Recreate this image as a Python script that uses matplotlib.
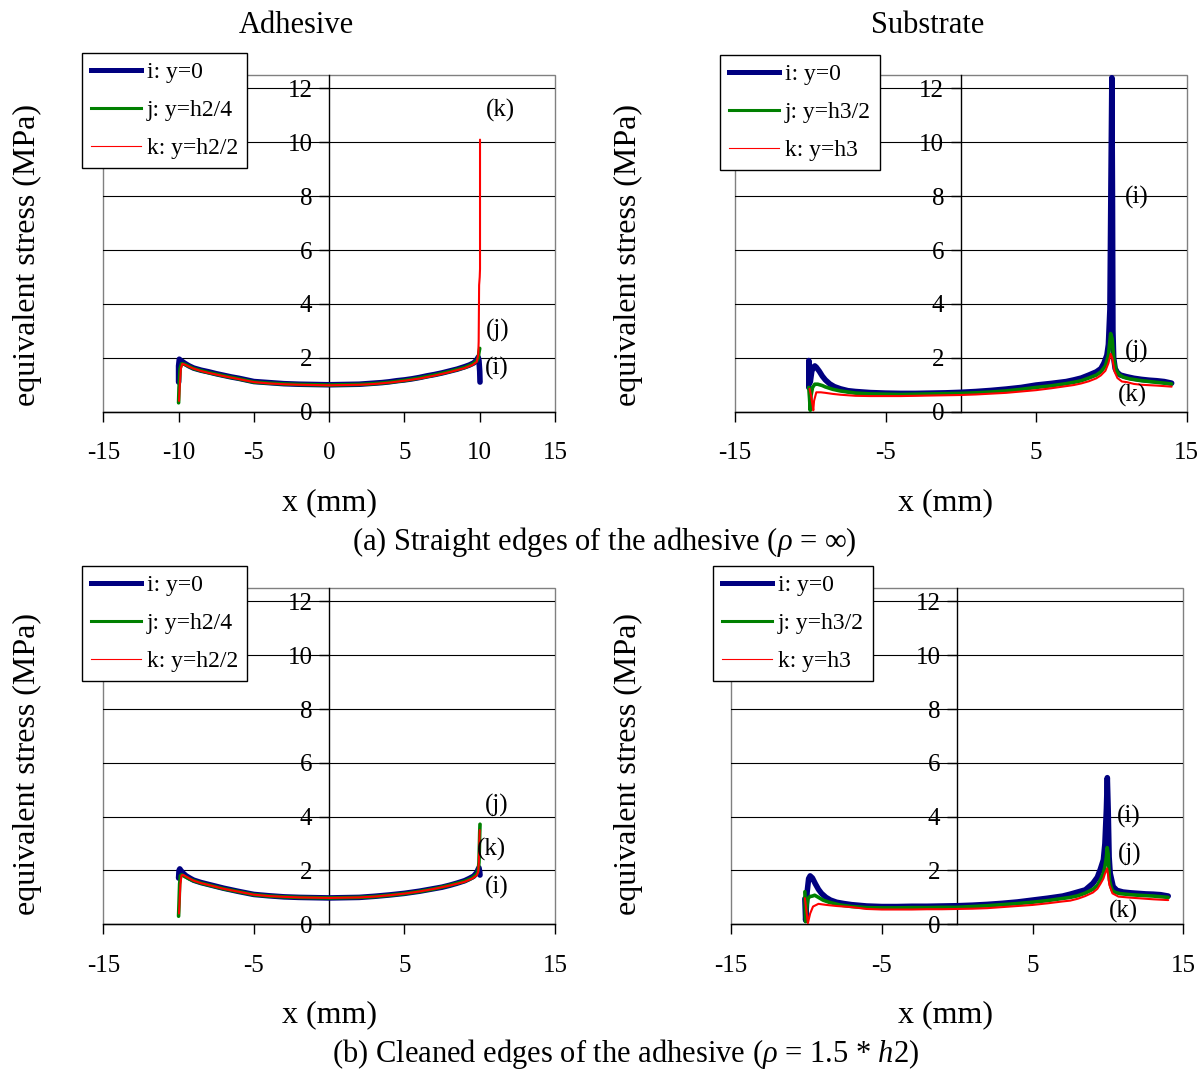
import matplotlib
matplotlib.use("Agg")
import matplotlib.pyplot as plt
from matplotlib.lines import Line2D
from matplotlib.patches import Rectangle

plt.rcParams["font.family"] = ["Liberation Serif", "DejaVu Serif"]
plt.rcParams["mathtext.fontset"] = "custom"
plt.rcParams["mathtext.rm"] = "Liberation Serif"
plt.rcParams["mathtext.it"] = "Liberation Serif:italic"
plt.rcParams["axes.unicode_minus"] = False

# ---------------- data: equivalent stress (MPa) along x (mm) ----------------
# (a) straight edges, adhesive
a_adh_i_x = [-10.0, -10.0, -9.95, -9.9, -9.8, -9.6, -9.3, -9.0, -8.5, -8.0, -7.5, -7.0, -6.5, -6.0,
             -5.5, -5.0, -4.5, -4.0, -3.5, -3.0, -2.5, -2.0, -1.0, 0.0, 1.0, 2.0, 2.5, 3.0, 3.5,
             4.0, 4.5, 5.0, 5.5, 6.0, 6.5, 7.0, 7.5, 8.0, 8.5, 9.0, 9.3, 9.6, 9.8, 9.9, 9.95,
             10.0, 10.02]
a_adh_i_y = [1.1, 1.7, 1.95, 1.92, 1.88, 1.8, 1.7, 1.62, 1.54, 1.48, 1.41, 1.35, 1.29, 1.24,
             1.18, 1.12, 1.1, 1.08, 1.06, 1.04, 1.03, 1.02, 1.01, 1.0, 1.01, 1.02, 1.04, 1.06,
             1.08, 1.11, 1.15, 1.18, 1.22, 1.27, 1.33, 1.38, 1.44, 1.51, 1.58, 1.67, 1.73, 1.81,
             1.92, 2.02, 1.9, 1.5, 1.1]
a_adh_j_x = [-10.0, -9.97, -9.9, -9.8, -9.6, -9.3, -9.0, -8.5, -8.0, -7.0, -6.0, -5.0, -4.0,
             -3.0, -2.0, -1.0, 0.0, 1.0, 2.0, 3.0, 4.0, 5.0, 6.0, 7.0, 8.0, 9.0, 9.5, 9.8, 9.9,
             9.95, 10.0]
a_adh_j_y = [0.33, 0.9, 1.6, 1.78, 1.76, 1.68, 1.6, 1.52, 1.45, 1.33, 1.22, 1.1, 1.06, 1.03,
             1.01, 1.0, 0.99, 1.0, 1.01, 1.04, 1.09, 1.16, 1.25, 1.36, 1.49, 1.64, 1.76, 1.88,
             2.0, 2.2, 2.35]
a_adh_k_x = [-9.97, -9.92, -9.85, -9.75, -9.6, -9.3, -9.0, -8.5, -8.0, -7.0, -6.0, -5.0, -4.0,
             -3.0, -2.0, -1.0, 0.0, 1.0, 2.0, 3.0, 4.0, 5.0, 6.0, 7.0, 8.0, 9.0, 9.5, 9.8, 9.9,
             9.93, 9.96, 10.0, 10.02, 10.02]
a_adh_k_y = [0.4, 1.0, 1.6, 1.78, 1.75, 1.67, 1.6, 1.51, 1.44, 1.32, 1.21, 1.1, 1.05, 1.02,
             1.0, 0.99, 0.98, 0.99, 1.0, 1.03, 1.08, 1.15, 1.23, 1.34, 1.47, 1.62, 1.73, 1.85,
             2.1, 2.6, 4.7, 5.0, 5.3, 10.1]

# (a) straight edges, substrate
a_sub_i_x = [-10.1, -10.1, -10.05, -10.0, -9.9, -9.8, -9.7, -9.6, -9.4, -9.2, -9.0, -8.7, -8.4,
             -8.0, -7.5, -7.0, -6.0, -5.0, -4.0, -3.0, -2.0, -1.0, 0.0, 1.0, 2.0, 3.0, 4.0, 5.0,
             6.0, 7.0, 7.5, 8.0, 8.5, 9.0, 9.3, 9.5, 9.7, 9.8, 9.9, 9.97, 10.03, 10.07, 10.1,
             10.15, 10.25, 10.4, 10.6, 11.0, 11.5, 12.0, 12.5, 13.0, 13.5, 14.0]
a_sub_i_y = [0.9, 1.9, 1.6, 1.1, 1.5, 1.65, 1.7, 1.65, 1.5, 1.32, 1.18, 1.03, 0.93, 0.85, 0.78,
             0.75, 0.71, 0.69, 0.68, 0.68, 0.69, 0.7, 0.72, 0.75, 0.79, 0.84, 0.9, 0.99, 1.05,
             1.12, 1.18, 1.25, 1.36, 1.48, 1.6, 1.8, 2.1, 2.5, 3.8, 8.6, 12.4, 8.0, 3.0, 2.0,
             1.6, 1.45, 1.36, 1.3, 1.24, 1.2, 1.17, 1.15, 1.12, 1.06]
a_sub_j_x = [-10.1, -10.05, -10.0, -9.95, -9.85, -9.7, -9.5, -9.2, -9.0, -8.5, -8.0, -7.0, -6.0,
             -5.0, -4.0, -3.0, -2.0, -1.0, 0.0, 1.0, 2.0, 3.0, 4.0, 5.0, 6.0, 7.0, 7.5, 8.0,
             8.5, 9.0, 9.3, 9.6, 9.8, 9.95, 10.05, 10.15, 10.3, 10.5, 10.8, 11.2, 12.0, 13.0,
             14.0]
a_sub_j_y = [0.9, 0.5, 0.05, 0.6, 0.9, 1.02, 1.02, 0.97, 0.92, 0.83, 0.77, 0.69, 0.66, 0.65,
             0.64, 0.65, 0.66, 0.67, 0.68, 0.7, 0.73, 0.77, 0.83, 0.9, 0.96, 1.04, 1.09, 1.15,
             1.25, 1.36, 1.48, 1.7, 2.1, 2.9, 2.7, 2.0, 1.55, 1.38, 1.28, 1.22, 1.15, 1.09,
             1.03]
a_sub_k_x = [-10.05, -9.95, -9.85, -9.8, -9.75, -9.6, -9.3, -9.0, -8.5, -8.0, -7.0, -6.0, -5.0,
             -4.0, -3.0, -2.0, -1.0, 0.0, 1.0, 2.0, 3.0, 4.0, 5.0, 6.0, 7.0, 7.5, 8.0, 8.5,
             9.0, 9.3, 9.6, 9.8, 9.95, 10.05, 10.2, 10.4, 10.7, 11.0, 11.5, 12.0, 13.0, 14.0]
a_sub_k_y = [0.85, 0.6, 0.25, 0.05, 0.4, 0.72, 0.72, 0.7, 0.66, 0.63, 0.59, 0.58, 0.58, 0.58,
             0.59, 0.6, 0.61, 0.62, 0.64, 0.67, 0.7, 0.75, 0.8, 0.87, 0.95, 0.99, 1.05, 1.13,
             1.24, 1.35, 1.52, 1.8, 2.15, 2.0, 1.5, 1.25, 1.12, 1.1, 1.03, 1.0, 0.97, 0.93]

# (b) cleaned edges, adhesive
b_adh_i_x = [-10.0, -9.97, -9.92, -9.85, -9.7, -9.5, -9.2, -9.0, -8.5, -8.0, -7.5, -7.0, -6.0,
             -5.0, -4.0, -3.0, -2.0, -1.0, 0.0, 1.0, 2.0, 3.0, 4.0, 5.0, 6.0, 7.0, 7.5, 8.0,
             8.5, 9.0, 9.3, 9.6, 9.8, 9.9, 9.95, 10.0, 10.02]
b_adh_i_y = [1.72, 2.0, 2.06, 2.0, 1.9, 1.8, 1.7, 1.64, 1.55, 1.48, 1.41, 1.34, 1.22, 1.11,
             1.06, 1.02, 1.0, 0.99, 0.98, 0.99, 1.0, 1.04, 1.09, 1.15, 1.23, 1.33, 1.38, 1.45,
             1.53, 1.62, 1.7, 1.79, 1.92, 2.05, 2.1, 1.95, 1.83]
b_adh_j_x = [-10.0, -9.97, -9.93, -9.88, -9.8, -9.6, -9.3, -9.0, -8.5, -8.0, -7.0, -6.0, -5.0,
             -4.0, -3.0, -2.0, -1.0, 0.0, 1.0, 2.0, 3.0, 4.0, 5.0, 6.0, 7.0, 8.0, 9.0, 9.5,
             9.8, 9.9, 9.95, 9.98, 10.0, 10.02]
b_adh_j_y = [0.3, 0.8, 1.5, 1.8, 1.84, 1.78, 1.69, 1.62, 1.53, 1.46, 1.32, 1.21, 1.1, 1.05,
             1.02, 1.0, 0.99, 0.98, 0.99, 1.0, 1.03, 1.08, 1.14, 1.22, 1.32, 1.45, 1.6, 1.72,
             1.86, 2.0, 2.3, 2.9, 3.4, 3.72]
b_adh_k_x = [-9.97, -9.93, -9.88, -9.8, -9.7, -9.5, -9.2, -9.0, -8.5, -8.0, -7.0, -6.0, -5.0,
             -4.0, -3.0, -2.0, -1.0, 0.0, 1.0, 2.0, 3.0, 4.0, 5.0, 6.0, 7.0, 8.0, 9.0, 9.5,
             9.8, 9.9, 9.94, 9.97, 10.0]
b_adh_k_y = [0.4, 0.9, 1.5, 1.82, 1.84, 1.77, 1.68, 1.62, 1.53, 1.46, 1.32, 1.21, 1.1, 1.05,
             1.02, 1.0, 0.99, 0.98, 0.99, 1.0, 1.03, 1.08, 1.14, 1.22, 1.32, 1.44, 1.58, 1.7,
             1.82, 1.95, 2.3, 3.0, 3.5]

# (b) cleaned edges, substrate
b_sub_i_x = [-10.1, -10.05, -9.95, -9.85, -9.75, -9.6, -9.4, -9.2, -9.0, -8.7, -8.4, -8.0,
             -7.5, -7.0, -6.0, -5.0, -4.0, -3.0, -2.0, -1.0, 0.0, 1.0, 2.0, 3.0, 4.0, 5.0,
             6.0, 7.0, 7.5, 8.0, 8.5, 9.0, 9.3, 9.5, 9.7, 9.8, 9.9, 9.96, 10.02, 10.08, 10.15,
             10.35, 10.6, 11.0, 11.5, 12.0, 12.5, 13.0, 13.5, 14.0]
b_sub_i_y = [0.95, 0.15, 1.2, 1.7, 1.8, 1.72, 1.5, 1.3, 1.15, 1.0, 0.9, 0.82, 0.77, 0.73,
             0.68, 0.66, 0.66, 0.67, 0.67, 0.68, 0.69, 0.71, 0.74, 0.78, 0.83, 0.9, 0.97, 1.05,
             1.12, 1.2, 1.28, 1.52, 1.75, 2.05, 2.4, 3.0, 4.3, 5.45, 4.2, 2.5, 1.9, 1.4, 1.26,
             1.2, 1.17, 1.15, 1.13, 1.12, 1.1, 1.05]
b_sub_j_x = [-10.1, -10.05, -9.98, -9.9, -9.78, -9.6, -9.45, -9.2, -8.9, -8.5, -7.8, -7.0,
             -6.0, -5.0, -4.0, -3.0, -2.0, -1.0, 0.0, 1.0, 2.0, 3.0, 4.0, 5.0, 6.0, 7.0, 7.5,
             8.0, 8.5, 9.0, 9.3, 9.5, 9.7, 9.8, 9.9, 9.95, 10.02, 10.1, 10.2, 10.3, 10.5, 10.8,
             11.5, 12.0, 13.0, 14.0]
b_sub_j_y = [1.21, 0.1, 0.6, 0.95, 1.03, 1.05, 1.08, 1.0, 0.9, 0.82, 0.72, 0.66, 0.62, 0.61,
             0.61, 0.62, 0.62, 0.63, 0.63, 0.66, 0.69, 0.73, 0.77, 0.82, 0.88, 0.96, 1.0, 1.06,
             1.16, 1.3, 1.45, 1.65, 1.9, 2.14, 2.5, 2.85, 2.6, 1.65, 1.4, 1.25, 1.18, 1.14,
             1.1, 1.08, 1.05, 1.0]
b_sub_k_x = [-10.1, -10.0, -9.9, -9.75, -9.56, -9.2, -8.67, -8.0, -7.0, -6.0, -5.0, -4.0, -3.0,
             -2.0, -1.0, 0.0, 1.0, 2.0, 2.5, 3.0, 4.0, 5.0, 6.0, 7.0, 7.5, 8.0, 8.5, 9.0, 9.3,
             9.5, 9.7, 9.8, 9.95, 10.1, 10.3, 10.7, 11.5, 12.0, 13.0, 14.0]
b_sub_k_y = [0.97, 0.5, 0.04, 0.4, 0.66, 0.76, 0.72, 0.68, 0.64, 0.57, 0.55, 0.55, 0.55, 0.56,
             0.56, 0.57, 0.58, 0.6, 0.62, 0.64, 0.68, 0.72, 0.78, 0.85, 0.88, 0.95, 1.05, 1.18,
             1.32, 1.5, 1.7, 1.88, 2.08, 1.46, 1.15, 1.03, 0.99, 0.97, 0.93, 0.9]

adh_labels = ["i: y=0", "j: y=h2/4", "k: y=h2/2"]
sub_labels = ["i: y=0", "j: y=h3/2", "k: y=h3"]

y_ticks = [0, 2, 4, 6, 8, 10, 12]
adh_a_xticks = [-15, -10, -5, 0, 5, 10, 15]
other_xticks = [-15, -5, 5, 15]

# curve tags: (text, x, y)
a_adh_tags = [("(k)", 11.4, 11.2), ("(j)", 11.2, 3.0), ("(i)", 11.1, 1.6)]
a_sub_tags = [("(i)", 11.7, 7.95), ("(j)", 11.7, 2.25), ("(k)", 11.4, 0.6)]
b_adh_tags = [("(j)", 11.1, 4.4), ("(k)", 10.8, 2.78), ("(i)", 11.1, 1.37)]
b_sub_tags = [("(i)", 11.4, 4.0), ("(j)", 11.45, 2.6), ("(k)", 11.05, 0.48)]

# ---------------- styling ----------------
NAVY, GREEN, RED = "#000080", "#008000", "#FF0000"
W, H = 1204, 1070
fig = plt.figure(figsize=(W / 100, H / 100), dpi=100)


def px_axes(left, right, top, bottom):
    return fig.add_axes([left / W, 1 - bottom / H, (right - left) / W, (bottom - top) / H])


def style(ax, xticks):
    ax.set_xlim(-15, 15)
    ax.set_ylim(0, 12.5)
    for s in ("top", "right"):
        ax.spines[s].set_visible(False)
    ax.spines["left"].set_position(("data", 0))
    ax.spines["left"].set_color("black")
    ax.spines["bottom"].set_color("black")
    ax.spines["left"].set_linewidth(1.0)
    ax.spines["bottom"].set_linewidth(1.0)
    ax.add_patch(Rectangle((0, 0), 1, 1, transform=ax.transAxes, fill=False,
                           ec="#808080", lw=1.0, clip_on=False, zorder=0.5))
    ax.set_yticks(y_ticks)
    ax.set_xticks(xticks)
    ax.grid(axis="y", color="black", lw=0.8, zorder=0.6)
    ax.set_axisbelow(True)
    ax.tick_params(axis="y", direction="out", length=7, width=1, pad=5, labelsize=18)
    ax.tick_params(axis="x", direction="out", length=7, width=1, pad=15, labelsize=18)


def draw(ax, series, labels, tags, leg_xy):
    widths = [4.0, 2.6, 1.5]
    colors = [NAVY, GREEN, RED]
    for (xs, ys), c, w in zip(series, colors, widths):
        ax.plot(xs, ys, color=c, lw=w, solid_joinstyle="round", solid_capstyle="round", zorder=3)
    for t, x, y in tags:
        ax.text(x, y, t, ha="center", va="center", fontsize=18, zorder=4)
    handles = [Line2D([], [], color=NAVY, lw=3.6),
               Line2D([], [], color=GREEN, lw=2.2),
               Line2D([], [], color=RED, lw=0.8)]
    leg = ax.legend(handles, labels, loc="upper left",
                    bbox_to_anchor=(leg_xy[0] / W, 1 - leg_xy[1] / H),
                    bbox_transform=fig.transFigure, borderaxespad=0, fontsize=17,
                    frameon=True, fancybox=False, shadow=False, framealpha=1,
                    edgecolor="black", handlelength=2.15, handletextpad=0.25,
                    labelspacing=0.7, borderpad=0.36)
    leg.get_frame().set_linewidth(1.0)
    leg.set_zorder(10)


ax1 = px_axes(103.3, 555.0, 75.0, 411.7)
style(ax1, adh_a_xticks)
draw(ax1, [(a_adh_i_x, a_adh_i_y), (a_adh_j_x, a_adh_j_y), (a_adh_k_x, a_adh_k_y)],
     adh_labels, a_adh_tags, (82, 53))

ax2 = px_axes(735.0, 1186.7, 75.0, 411.7)
style(ax2, other_xticks)
draw(ax2, [(a_sub_i_x, a_sub_i_y), (a_sub_j_x, a_sub_j_y), (a_sub_k_x, a_sub_k_y)],
     sub_labels, a_sub_tags, (720, 55))

ax3 = px_axes(103.3, 555.0, 588.0, 924.3)
style(ax3, other_xticks)
draw(ax3, [(b_adh_i_x, b_adh_i_y), (b_adh_j_x, b_adh_j_y), (b_adh_k_x, b_adh_k_y)],
     adh_labels, b_adh_tags, (82, 566))

ax4 = px_axes(731.0, 1183.3, 588.0, 924.3)
style(ax4, other_xticks)
draw(ax4, [(b_sub_i_x, b_sub_i_y), (b_sub_j_x, b_sub_j_y), (b_sub_k_x, b_sub_k_y)],
     sub_labels, b_sub_tags, (713, 566))

# headings, axis labels and captions
def ftext(x, y, s, **kw):
    fig.text(x / W, 1 - y / H, s, **kw)

ftext(296, 33, "Adhesive", ha="center", va="baseline", fontsize=22)
ftext(928, 33, "Substrate", ha="center", va="baseline", fontsize=22)
for yc in (255, 764):
    ftext(27, yc, "equivalent stress (MPa)", ha="center", va="center", rotation=90, fontsize=23)
    ftext(628, yc, "equivalent stress (MPa)", ha="center", va="center", rotation=90, fontsize=23)
for yb in (510, 1022):
    ftext(330, yb, "x (mm)", ha="center", va="baseline", fontsize=23)
    ftext(946, yb, "x (mm)", ha="center", va="baseline", fontsize=23)
ftext(604, 550, "(a) Straight edges of the adhesive ($\\rho$ = \u221e)",
      ha="center", va="baseline", fontsize=22)
ftext(626, 1062, "(b) Cleaned edges of the adhesive ($\\rho$ = 1.5 * $h2$)",
      ha="center", va="baseline", fontsize=22)

fig.savefig("out.png", dpi=100)
